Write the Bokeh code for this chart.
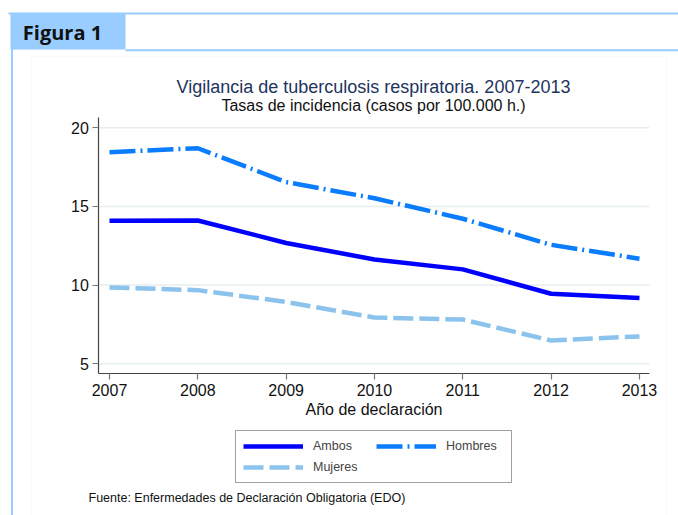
from bokeh.plotting import figure
from bokeh.models import (Range1d, FixedTicker, Label, BoxAnnotation, Legend,
                          LegendItem, LinearAxis)
from bokeh.embed import file_html
from bokeh.resources import INLINE

years = [2007, 2008, 2009, 2010, 2011, 2012, 2013]
ambos = [14.09, 14.11, 12.68, 11.63, 11.00, 9.45, 9.18]
hombres = [18.45, 18.70, 16.55, 15.52, 14.22, 12.56, 11.68]
mujeres = [9.85, 9.68, 8.93, 7.94, 7.81, 6.48, 6.74]
y_ticks = [5, 10, 15, 20]
x_ticks = years

FONT = "Liberation Sans"
W, H = 678, 515

# plot-area limits (data units) and full-canvas ranges
X_LO, X_HI = 2006.879, 2013.113
Y_LO, Y_HI = 4.364, 20.636
p = figure(width=W, height=H, output_backend="svg", toolbar_location=None,
           x_range=Range1d(2005.766, 2013.442), y_range=Range1d(-4.647, 28.093),
           x_axis_type=None, y_axis_type=None,
           min_border=0, min_border_left=0, min_border_right=0,
           min_border_top=0, min_border_bottom=0)
p.outline_line_color = None
p.background_fill_color = "white"
p.border_fill_color = "white"
p.grid.grid_line_color = None

# horizontal grid lines limited to the plot area
p.segment(x0=[X_LO] * len(y_ticks), x1=[X_HI] * len(y_ticks),
          y0=y_ticks, y1=y_ticks, line_color="#e6eef0", line_width=1.5,
          level="underlay")

xaxis = LinearAxis(fixed_location=Y_LO, bounds=(X_LO, X_HI),
                   ticker=FixedTicker(ticks=x_ticks))
yaxis = LinearAxis(fixed_location=X_LO, bounds=(Y_LO, Y_HI),
                   ticker=FixedTicker(ticks=y_ticks))
for ax in (xaxis, yaxis):
    ax.axis_line_color = "#444444"
    ax.axis_line_width = 1.2
    ax.major_tick_line_color = "#777777"
    ax.major_tick_line_width = 1.2
    ax.major_tick_out = 6
    ax.major_tick_in = 0
    ax.minor_tick_line_color = None
    ax.major_label_text_font = FONT
    ax.major_label_text_font_size = "16px"
    ax.major_label_text_color = "#111111"
xaxis.major_label_standoff = 4
yaxis.major_label_standoff = 4
xaxis.axis_label = "Año de declaración"
xaxis.axis_label_text_font = FONT
xaxis.axis_label_text_font_size = "16px"
xaxis.axis_label_text_font_style = "normal"
xaxis.axis_label_text_color = "#111111"
xaxis.axis_label_standoff = 2
p.add_layout(xaxis, "below")
p.add_layout(yaxis, "left")

r_amb = p.line(years, ambos, line_color="#0000ff", line_width=4.5)
r_hom = p.line(years, hombres, line_color="#0a7dff", line_width=4.5,
               line_dash="26 5 2 5")
r_muj = p.line(years, mujeres, line_color="#8cc3ec", line_width=4.5,
               line_dash="20 6")

legend = Legend(items=[LegendItem(label="Ambos", renderers=[r_amb]),
                       LegendItem(label="Hombres", renderers=[r_hom]),
                       LegendItem(label="Mujeres", renderers=[r_muj])],
                location=(235, 32), orientation="horizontal", ncols=2,
                border_line_color="#444444", border_line_width=1,
                background_fill_color="white", background_fill_alpha=1,
                label_text_font=FONT, label_text_font_size="12.5px",
                glyph_width=60, glyph_height=16, label_standoff=10,
                label_width=58, spacing=5, padding=7, margin=0)
p.add_layout(legend, "center")

# decorative frame (screen units: x from left, y from bottom)
def box(l, r, t, b, fill=None, line=None, lw=1):
    return BoxAnnotation(left=l, right=r, top=t, bottom=b,
                         left_units="screen", right_units="screen",
                         top_units="screen", bottom_units="screen",
                         fill_color=fill, fill_alpha=1 if fill else 0,
                         line_color=line, line_width=lw, level="underlay")

p.add_layout(box(31, 666, 459, -5, fill=None, line="#eeeeee", lw=1))
p.add_layout(box(10, 125, 502, 466, fill="#99ccff"))
p.add_layout(box(8, 678, 503, 501, fill="#99ccff"))
p.add_layout(box(125, 678, 466.3, 464.3, fill="#99ccff"))
p.add_layout(box(10.5, 12.5, 502, -5, fill="#99ccff"))

p.add_layout(Label(x=62, y=483, x_units="screen", y_units="screen",
                   text="Figura 1", text_font="Open Sans", text_font_style="bold",
                   text_font_size="20px", text_align="center",
                   text_baseline="middle", text_color="#111111"))
p.add_layout(Label(x=373, y=429, x_units="screen", y_units="screen",
                   text="Vigilancia de tuberculosis respiratoria. 2007-2013",
                   text_font=FONT, text_font_size="18px", text_align="center",
                   text_baseline="middle", text_color="#22345e"))
p.add_layout(Label(x=373, y=410, x_units="screen", y_units="screen",
                   text="Tasas de incidencia (casos por 100.000 h.)",
                   text_font=FONT, text_font_size="16px", text_align="center",
                   text_baseline="middle", text_color="#111111"))
p.add_layout(Label(x=88, y=18, x_units="screen", y_units="screen",
                   text="Fuente: Enfermedades de Declaración Obligatoria (EDO)",
                   text_font=FONT, text_font_size="12.5px", text_align="left",
                   text_baseline="middle", text_color="#111111"))

open("out.html", "w").write(file_html(p, INLINE))
